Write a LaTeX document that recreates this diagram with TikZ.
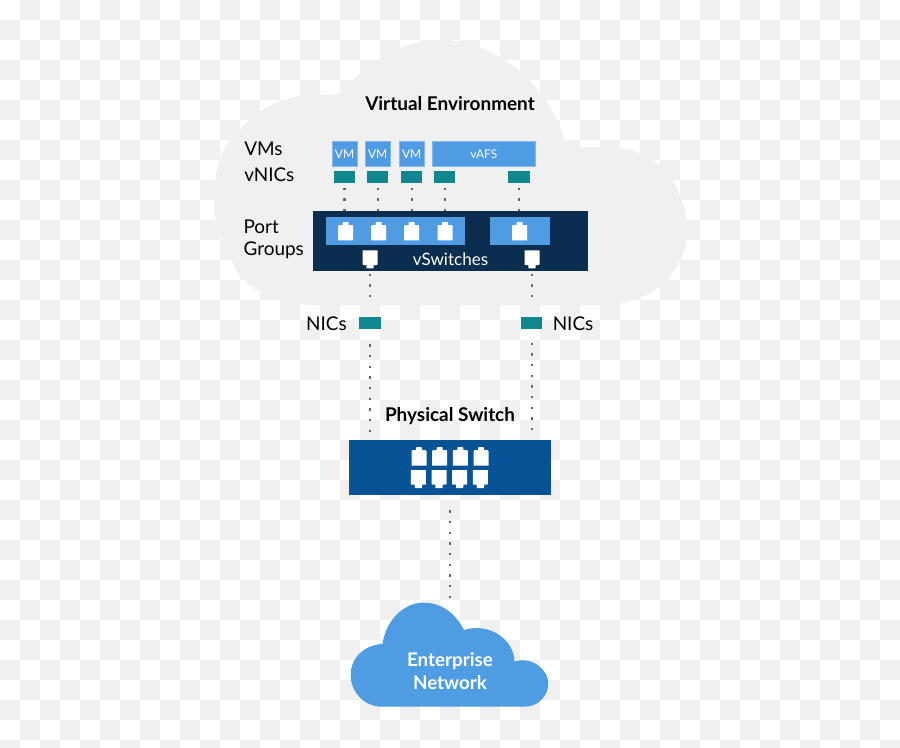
\documentclass[tikz,border=0pt]{standalone}
\usepackage{fontspec}
\setmainfont{Lato}
\definecolor{checker}{HTML}{F0F0F0}
\definecolor{skyblue}{HTML}{4F9CE3}
\definecolor{tealnic}{HTML}{12868F}
\definecolor{navysw}{HTML}{0B2D4E}
\definecolor{bluesw}{HTML}{085396}
\definecolor{dotgray}{HTML}{666666}
\tikzset{
  vmbox/.style={draw=skyblue!70!white,line width=0.4pt,fill=skyblue,text=white,inner sep=0pt,minimum height=19pt,text height=6.5pt,text depth=0pt,font=\fontsize{9}{9}\selectfont},
  nicbox/.style={fill=tealnic,inner sep=0pt,minimum width=16pt,minimum height=9pt},
  lbl/.style={inner sep=0pt,text=black,font=\fontsize{14.2}{16.8}\selectfont,align=left},
  dots/.style={draw=dotgray,line width=1.7pt,dash pattern=on 1.7pt off 6.3pt},
  portup/.pic={\fill[white] (-7.5,9.2)--(-7.5,-5.3)--(-6.7,-6.1)--(-3,-6.1)--(-3,-8.4)--(-2.2,-9.2)--(2.2,-9.2)--(3,-8.4)--(3,-6.1)--(6.7,-6.1)--(7.5,-5.3)--(7.5,9.2)--cycle;},
  portdn/.pic={\fill[white] (-7.5,-9)--(-7.5,5)--(-6.7,5.7)--(-3.7,5.7)--(-3.7,8.3)--(-3,9)--(3,9)--(3.7,8.3)--(3.7,5.7)--(6.7,5.7)--(7.5,5)--(7.5,-9)--cycle;}
}
\begin{document}
\begin{tikzpicture}[x=0.75pt,y=-0.75pt]
\useasboundingbox (0,0) rectangle (900,747);
\fill[white] (0,0) rectangle (900,747);
\foreach \i in {0,...,44}{\foreach \j in {0,...,37}{
  \pgfmathtruncatemacro{\s}{mod(\i+\j,2)}
  \ifnum\s=1 \fill[checker] (\i*20,\j*20) rectangle ++(20,20);\fi
}}
% large cloud
\fill[checker] (317,305)
  .. controls (270,305) and (240,285) .. (233,262)
  .. controls (220,240) and (213,220) .. (214,197)
  .. controls (214,165) and (225,140) .. (240,130)
  .. controls (260,105) and (290,95) .. (313,95)
  .. controls (330,95) and (345,97) .. (353,80)
  .. controls (385,50) and (415,40) .. (443,40)
  .. controls (490,40) and (550,80) .. (567,148)
  .. controls (580,147) and (595,147) .. (613,147)
  .. controls (660,150) and (687,190) .. (687,230)
  .. controls (687,265) and (660,305) .. (600,305) -- cycle;
% labels
\node[lbl,anchor=base,font=\fontsize{14.2}{17}\selectfont\bfseries] (title) at (450,110) {Virtual Environment};
\node[lbl,anchor=base west] (lvm) at (244,155.5) {VMs};
\node[lbl,anchor=base west] (lvn) at (244,181) {vNICs};
\node[lbl,anchor=base west] (lpg) at (243.3,255.7) {Port\\Groups};
% VMs
\node[vmbox,minimum width=19pt,anchor=base] (vm1) at (344.6,158.3) {VM};
\node[vmbox,minimum width=19pt,anchor=base] (vm2) at (377.7,158.3) {VM};
\node[vmbox,minimum width=19pt,anchor=base] (vm3) at (411.7,158.3) {VM};
\node[vmbox,minimum width=77.7pt,anchor=base] (vafs) at (483.8,158.3) {vAFS};
% vNICs
\node[nicbox] (vn1) at (344.4,177.3) {};
\node[nicbox] (vn2) at (377.7,177.3) {};
\node[nicbox] (vn3) at (411.7,177.3) {};
\node[nicbox] (vn4) at (444.7,177.3) {};
\node[nicbox] (vn5) at (519,177.3) {};
% vSwitch
\node[fill=navysw,inner sep=0pt,minimum width=206.3pt,minimum height=45pt] (sw) at (450.2,241.3) {};
\node[fill=skyblue,inner sep=0pt,minimum width=104pt,minimum height=21pt] (pg1) at (395.3,231.3) {};
\node[fill=skyblue,inner sep=0pt,minimum width=45pt,minimum height=21pt] (pg2) at (519.7,231.3) {};
\pic at (345.7,231.2) {portup};
\pic at (378.7,231.2) {portup};
\pic at (411.7,231.2) {portup};
\pic at (445,231.2) {portup};
\pic at (519.7,231.2) {portup};
\pic at (370,259.3) {portdn};
\pic at (532,259.3) {portdn};
\node[inner sep=0pt,anchor=base,text=white,font=\fontsize{12.8}{15}\selectfont] (vsl) at (450.5,265.3) {vSwitches};
% NICs
\node[nicbox] (nic1) at (370,323.2) {};
\node[nicbox] (nic2) at (531.7,323.2) {};
\node[lbl,anchor=base east] (ln1) at (347,330.4) {NICs};
\node[lbl,anchor=base west] (ln2) at (552.5,330.4) {NICs};
% physical switch
\node[lbl,anchor=base,font=\fontsize{14.2}{17}\selectfont\bfseries] (ps) at (450,421.5) {Physical Switch};
\node[fill=bluesw,inner sep=0pt,minimum width=151.5pt,minimum height=41.25pt] (phy) at (449.7,467.5) {};
\foreach \x in {419,439.7,460.3,481}{\pic at (\x,456.3) {portup};}
\foreach \x in {418.3,439,459.7,480.3}{\pic at (\x,479) {portdn};}
% enterprise cloud
\fill[skyblue] (382,706.7)
  .. controls (364,706.7) and (350.7,692) .. (350.7,675)
  .. controls (350.7,658) and (364,645) .. (382.5,644)
  .. controls (386,620) and (404,602.7) .. (423,602.7)
  .. controls (442,602.7) and (455,613) .. (464,630)
  .. controls (490,622) and (514,640) .. (514.5,661.5)
  .. controls (532,656) and (548.3,670) .. (548.3,683)
  .. controls (548.3,696) and (538,706.7) .. (525,706.7) -- cycle;
\node[inner sep=0pt,anchor=base,text=white,align=center,font=\fontsize{14.1}{16.9}\selectfont\bfseries] (ent) at (450,689) {Enterprise\\Network};
% connector free ends
\coordinate (a1) at (370,273.7); \coordinate (a1e) at (370,297);
\coordinate (a2) at (532,273.7); \coordinate (a2e) at (532,297);
\coordinate (b1) at (370,344.3); \coordinate (b1e) at (370,431.5);
\coordinate (b2) at (531.7,342.7); \coordinate (b2e) at (531.7,429.5);
\coordinate (c1) at (449.7,510.3); \coordinate (c1e) at (449.7,597.5);
% connectors
\foreach \n in {vn1,vn2,vn3,vn4,vn5}{\draw[dots] ([yshift=-3pt]\n.south) -- (\n.south |- sw.north);}
\draw[dots] (a1) -- (a1e);
\draw[dots] (a2) -- (a2e);
\draw[dots] (b1) -- (b1e);
\draw[dots] (b2) -- (b2e);
\draw[dots] (c1) -- (c1e);
\end{tikzpicture}
\end{document}
